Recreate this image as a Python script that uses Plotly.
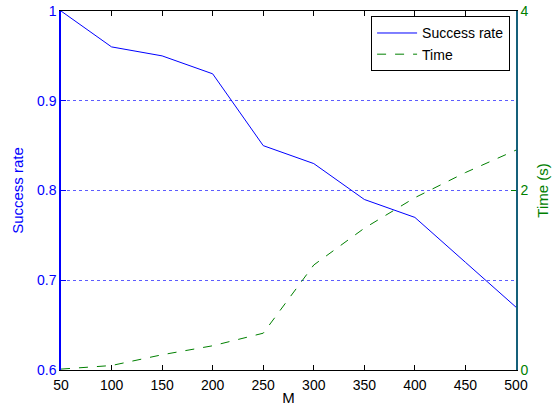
import plotly.graph_objects as go

M = [50, 100, 150, 200, 250, 300, 350, 400, 450, 500]
success_rate = [1.0, 0.96, 0.95, 0.93, 0.85, 0.83, 0.79, 0.77, 0.72, 0.67]
time_s = [0.01, 0.05, 0.17, 0.27, 0.41, 1.17, 1.58, 1.92, 2.2, 2.45]

x_ticks = [50, 100, 150, 200, 250, 300, 350, 400, 450, 500]
left_ticks = [0.6, 0.7, 0.8, 0.9, 1.0]
right_ticks = [0, 2, 4]

BLUE = "#0000ff"
GREEN = "#008000"
FONT = "Liberation Sans, Arial, sans-serif"

fig = go.Figure()
fig.add_trace(go.Scatter(x=M, y=success_rate, mode="lines", name="Success rate",
                         line=dict(color=BLUE, width=1), yaxis="y"))
fig.add_trace(go.Scatter(x=M, y=time_s, mode="lines", name="Time",
                         line=dict(color=GREEN, width=1, dash="dash"), yaxis="y2"))

fig.update_layout(
    width=560, height=406,
    margin=dict(l=61, r=44, t=11, b=36, autoexpand=False),
    paper_bgcolor="white", plot_bgcolor="white",
    font=dict(family=FONT, size=14, color="black"),
    showlegend=True,
    legend=dict(x=0.987, y=0.985, xanchor="right", yanchor="top",
                bgcolor="white", bordercolor="black", borderwidth=1,
                font=dict(size=14, family=FONT), tracegroupgap=0,
                itemwidth=40),
    xaxis=dict(range=[50, 500], tickvals=x_ticks, ticks="inside", ticklen=5,
               tickcolor="black", showline=True, linecolor="black", linewidth=1,
               mirror="ticks", showgrid=False, zeroline=False, automargin=False,
               ticklabelstandoff=2, ticklabeloverflow="allow",
               title=dict(text="M", font=dict(size=15), standoff=0),
               tickfont=dict(size=14, color="black")),
    yaxis=dict(range=[0.6, 1.0], tickvals=left_ticks, ticktext=["0.6", "0.7", "0.8", "0.9", "1"],
               ticks="inside", ticklen=5, tickcolor=BLUE,
               showline=True, linecolor=BLUE, linewidth=1.5,
               showgrid=True, gridcolor="#5c5cff", griddash="dot", gridwidth=1,
               zeroline=False, automargin=False, ticklabeloverflow="allow",
               title=dict(text="Success rate", font=dict(size=15, color=BLUE), standoff=10),
               tickfont=dict(size=14, color=BLUE)),
    yaxis2=dict(range=[0, 4], tickvals=right_ticks, overlaying="y", side="right",
                ticks="inside", ticklen=5, tickcolor=GREEN,
                showline=True, linecolor="#15607a", linewidth=1.5,
                showgrid=False, zeroline=False, automargin=False, ticklabeloverflow="allow",
                title=dict(text="Time (s)", font=dict(size=15, color=GREEN), standoff=10),
                tickfont=dict(size=14, color=GREEN)),
)

# remove the browser's default 8px body margin so the figure fills the window exactly
fig.write_html("out.html", config={"displayModeBar": False},
               post_script="document.body.style.margin='0';")
